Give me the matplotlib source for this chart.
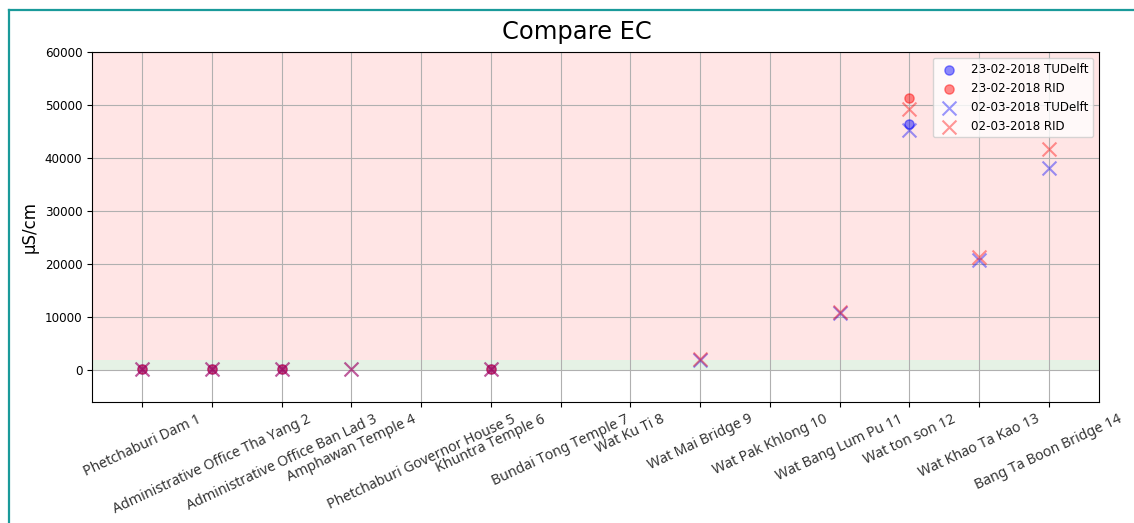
import numpy as np
import matplotlib
matplotlib.use('Agg')
import matplotlib.pyplot as plt
from matplotlib.lines import Line2D

nan = np.nan

stations = ['Phetchaburi Dam 1', 'Administrative Office Tha Yang 2',
            'Administrative Office Ban Lad 3', 'Amphawan Temple 4',
            'Phetchaburi Governor House 5', 'Khuntra Temple 6',
            'Bundai Tong Temple 7', 'Wat Ku Ti 8', 'Wat Mai Bridge 9',
            'Wat Pak Khlong 10', 'Wat Bang Lum Pu 11', 'Wat ton son 12',
            'Wat Khao Ta Kao 13', 'Bang Ta Boon Bridge 14']
pos = list(range(1, 15))

# EC values in uS/cm, nan = not measured
tud_2302 = [150, 150, 150, nan, nan, 150, nan, nan, nan, nan, nan, 46400, nan, nan]
rid_2302 = [150, 150, 150, nan, nan, 150, nan, nan, nan, nan, nan, 51400, nan, nan]
tud_0203 = [150, 150, 150, 150, nan, 150, nan, nan, 2000, nan, 10800, 45300, 20700, 38100]
rid_0203 = [150, 150, 150, 150, nan, 150, nan, nan, 2050, nan, 10900, 49200, 21300, 41700]

fig = plt.figure(figsize=(11.34, 5.23), dpi=100)
ax = fig.add_axes([92 / 1134, 1 - 402 / 523, (1099 - 92) / 1134, 350 / 523])

ax.axhspan(2000, 60000, color='red', alpha=0.1, lw=0)
ax.axhspan(0, 2000, color='green', alpha=0.1, lw=0)

ax.scatter(pos, tud_2302, c='blue', alpha=0.45, s=44, label='23-02-2018 TUDelft', zorder=3)
ax.scatter(pos, rid_2302, c='red', alpha=0.45, s=44, label='23-02-2018 RID', zorder=3)
ax.scatter(pos, tud_0203, c='blue', marker='x', alpha=0.4, s=100, label='02-03-2018 TUDelft', zorder=3)
ax.scatter(pos, rid_0203, c='red', marker='x', alpha=0.4, s=100, label='02-03-2018 RID', zorder=3)

ax.set_xlim(0.28, 14.72)
ax.set_ylim(-6000, 60000)
ax.set_xticks(pos)
ax.set_xticklabels(stations, rotation=25, ha='center', fontsize=10.2,
                   color='#333333', family=['Noto Sans', 'DejaVu Sans'])
ax.tick_params(axis='y', labelsize=8.6)
ax.set_ylabel('µS/cm', fontsize=12)
ax.grid(True)
ax.legend(loc='upper right', fontsize=8.6)

fig.text(577 / 1134, 1 - 39 / 523, 'Compare EC', fontsize=17.4, ha='center', va='baseline')

# notebook cell border
tc = '#1a9a9a'
fig.add_artist(Line2D([9 / 1134, 9 / 1134], [0, 1 - 10 / 523], color=tc, lw=1.6))
fig.add_artist(Line2D([9 / 1134, 1], [1 - 10 / 523, 1 - 10 / 523], color=tc, lw=1.6))

fig.savefig('out.png', dpi=100)
